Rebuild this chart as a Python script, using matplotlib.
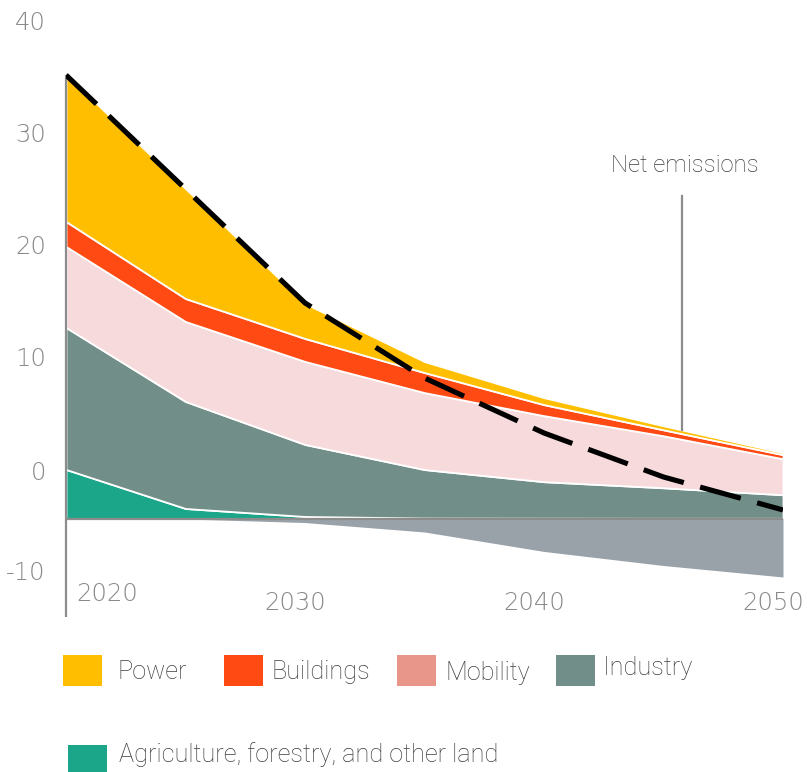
import matplotlib
matplotlib.use("Agg")
import matplotlib.pyplot as plt
from matplotlib.patches import Rectangle
import matplotlib.transforms as mtransforms

plt.rcParams['font.family'] = ['Roboto', 'DejaVu Sans']

# ---------------- data (GtCO2e-like units, baseline 0) ----------------
years = [2020, 2025, 2030, 2035, 2040, 2045, 2050]
agriculture = [4.36, 0.89, 0.18, 0.04, 0.03, 0.02, 0.02]
industry = [12.62, 9.51, 6.40, 4.31, 3.24, 2.71, 2.09]
mobility = [7.20, 7.11, 7.38, 6.84, 5.87, 4.62, 3.20]
buildings = [2.22, 2.04, 2.04, 1.78, 0.98, 0.53, 0.36]
power = [13.07, 9.78, 3.11, 0.98, 0.62, 0.36, 0.18]
removals = [0.0, -0.04, -0.36, -1.20, -2.93, -4.18, -5.20]
net_emissions = [39.42, 29.29, 19.16, 12.49, 7.60, 3.69, 0.76]

ytick_labels = ["40", "30", "20", "10", "0", "-10"]
xtick_years = [2020, 2030, 2040, 2050]

legend_labels = ["Power", "Buildings", "Mobility", "Industry",
                 "Agriculture, forestry, and other land"]

# ---------------- styles ----------------
C_POWER = "#ffbf00"
C_BUILD = "#ff4a14"
C_MOB = "#f7dadc"
C_MOB_LEG = "#e8968a"
C_IND = "#728e88"
C_AGRI = "#1ba68a"
C_NEG = "#9aa2a9"
C_AXIS = "#8c8c8c"
C_TEXT = "#8a8a8a"
C_DARK = "#3e3e3e"
NUM_FONT = ["DejaVu Sans"]

W, H = 807, 772
PX_PER_UNIT = 11.25
BASE_PX = 518.5


def v(ypx):
    return (BASE_PX - ypx) / PX_PER_UNIT


fig = plt.figure(figsize=(W / 100, H / 100), dpi=100)
ax = fig.add_axes([66 / W, 1 - 620 / H, (783 - 66) / W, 620 / H])
ax.set_xlim(2020, 2050)
ax.set_ylim(v(620), v(0))
for s in ax.spines.values():
    s.set_visible(False)
ax.set_xticks([])

# stacked positive areas
ax.stackplot(years, agriculture, industry, mobility, buildings, power,
             colors=[C_AGRI, C_IND, C_MOB, C_BUILD, C_POWER],
             edgecolor="white", linewidth=1.3, zorder=2)
# removals
ax.fill_between(years, removals, 0, color=C_NEG, linewidth=0, zorder=2)

# baseline & vertical axis
ax.plot([2020, 2050], [0, 0], color=C_AXIS, lw=1.6, zorder=3, solid_capstyle="butt")
ax.plot([2020, 2020], [v(617), net_emissions[0]], color=C_AXIS, lw=1.6,
        zorder=4, clip_on=False, solid_capstyle="butt")

# net emissions dashed line
ln, = ax.plot(years, net_emissions, color="black", lw=3.7, zorder=5)
ln.set_dashes((8.2, 3.3))

# y tick labels
ytick_pos = [v(20), v(132), v(245), v(357), v(470), v(570)]
ax.set_yticks(ytick_pos)
ax.set_yticklabels(ytick_labels)
ax.tick_params(axis="y", length=0, pad=14.5, labelsize=17.5, labelcolor=C_TEXT)
for t in ax.get_yticklabels():
    t.set_family(NUM_FONT)
    t.set_fontweight(200)

# x labels
trans = mtransforms.blended_transform_factory(ax.transData, fig.transFigure)
for yr in xtick_years:
    if yr == xtick_years[0]:
        ax.text(yr, 1 - 594 / H, str(yr), transform=trans
                + mtransforms.ScaledTranslation(10 / 100, 0, fig.dpi_scale_trans),
                ha="left", va="center", fontsize=17.5, color=C_TEXT,
                family=NUM_FONT, fontweight=200)
    else:
        ax.text(yr, 1 - 603 / H, str(yr), transform=trans
                + mtransforms.ScaledTranslation(-10 / 100, 0, fig.dpi_scale_trans),
                ha="center", va="center", fontsize=17.5, color=C_TEXT,
                family=NUM_FONT, fontweight=200)

# annotation
ann_x = 2020 + (682 - 66) / ((783 - 66) / 30)
ax.plot([ann_x, ann_x], [v(430), v(196)], color=C_AXIS, lw=1.6, zorder=3)
ax.text(ann_x + 0.12, v(166), "Net emissions", ha="center", va="center",
        fontsize=17.2, color=C_DARK, fontweight="light")

# legend (manual)
leg_colors = [C_POWER, C_BUILD, C_MOB_LEG, C_IND, C_AGRI]
sq_x = [63, 224, 397, 556, 68]
sq_y = [655, 655, 655, 655, 745]
txt_x = [117, 272, 446, 603, 119]
txt_y = [672, 672, 673, 668, 755]
for lab, col, sx, sy, tx, ty in zip(legend_labels, leg_colors, sq_x, sq_y, txt_x, txt_y):
    fig.add_artist(Rectangle((sx / W, 1 - (sy + 31) / H), 39 / W, 31 / H,
                             transform=fig.transFigure, color=col, lw=0))
    fig.text(tx / W, 1 - ty / H, lab, ha="left", va="center", fontsize=18.2,
             color=C_DARK, fontweight="light")

fig.savefig("out.png", dpi=100)
